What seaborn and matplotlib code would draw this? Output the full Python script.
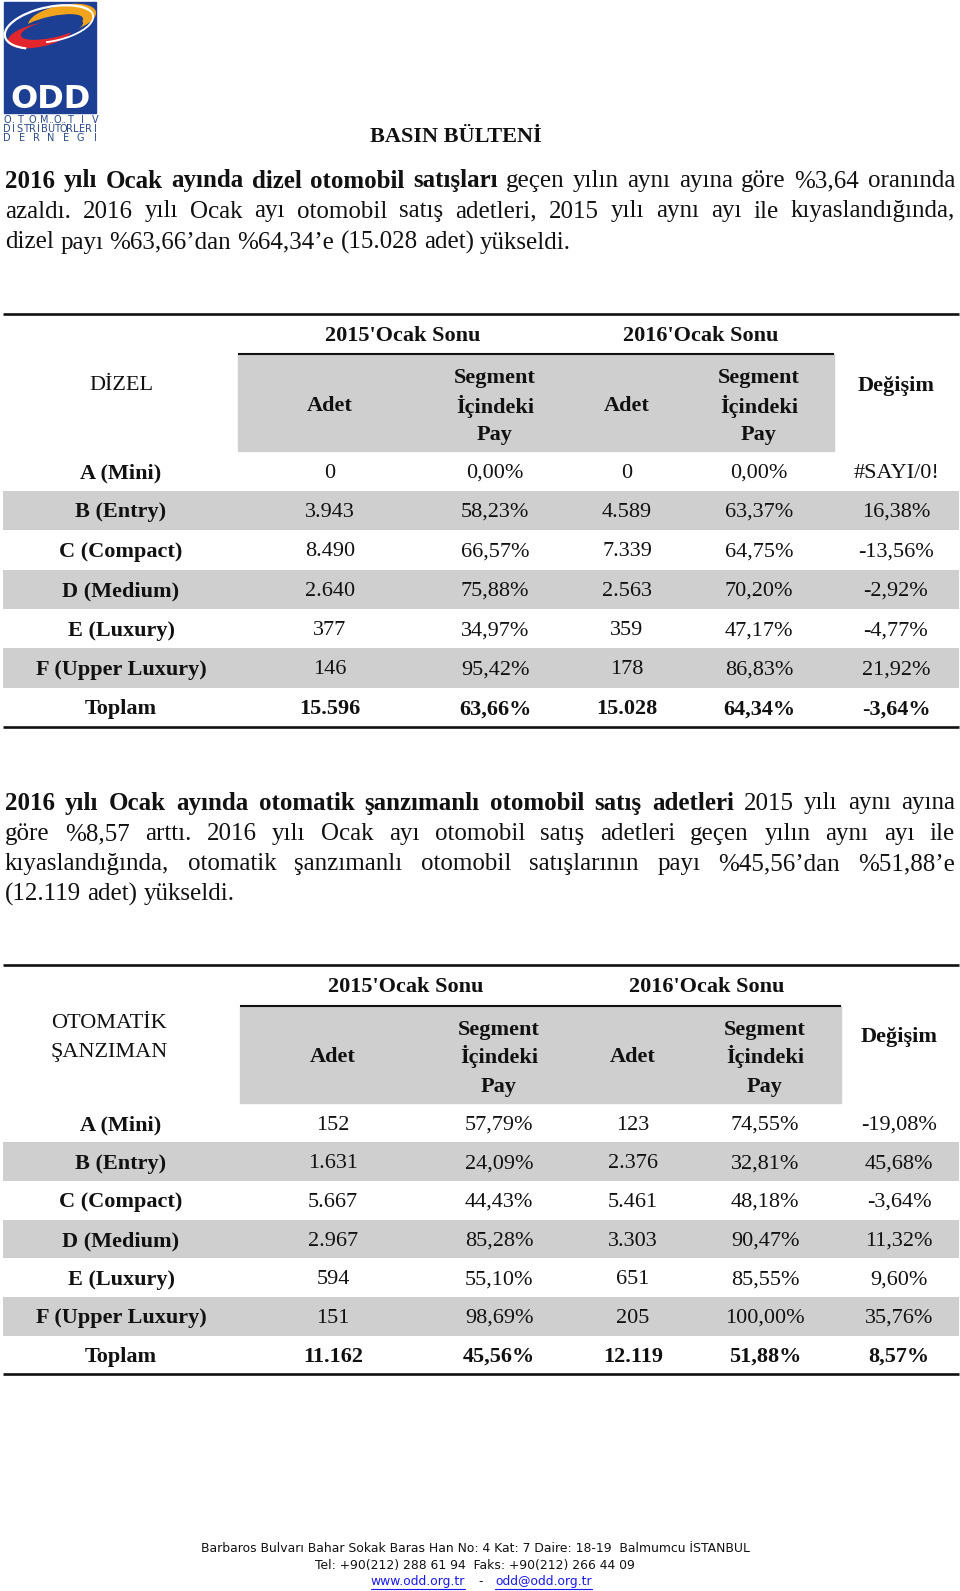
import numpy as np
import matplotlib
matplotlib.use("Agg")
import matplotlib.pyplot as plt
from matplotlib.colors import ListedColormap
from matplotlib.patches import Rectangle, Ellipse, Arc
import seaborn as sns

# ---- data -------------------------------------------------------------
segments = ["A (Mini)", "B (Entry)", "C (Compact)", "D (Medium)",
            "E (Luxury)", "F (Upper Luxury)", "Toplam"]

dizel_adet_2015 = [0, 3943, 8490, 2640, 377, 146, 15596]
dizel_pay_2015 = [0.00, 58.23, 66.57, 75.88, 34.97, 95.42, 63.66]
dizel_adet_2016 = [0, 4589, 7339, 2563, 359, 178, 15028]
dizel_pay_2016 = [0.00, 63.37, 64.75, 70.20, 47.17, 86.83, 64.34]
dizel_degisim = [None, 16.38, -13.56, -2.92, -4.77, 21.92, -3.64]

otomatik_adet_2015 = [152, 1631, 5667, 2967, 594, 151, 11162]
otomatik_pay_2015 = [57.79, 24.09, 44.43, 85.28, 55.10, 98.69, 45.56]
otomatik_adet_2016 = [123, 2376, 5461, 3303, 651, 205, 12119]
otomatik_pay_2016 = [74.55, 32.81, 48.18, 90.47, 85.55, 100.00, 51.88]
otomatik_degisim = [-19.08, 45.68, -3.64, 11.32, 9.60, 35.76, 8.57]

zebra = [0, 1, 0, 1, 0, 1, 0]

paragraph1 = [
    [("2016 yılı Ocak ayında dizel otomobil satışları", True),
     ("geçen yılın aynı ayına göre %3,64 oranında", False)],
    [("azaldı. 2016 yılı Ocak ayı otomobil satış adetleri, 2015 yılı aynı ayı ile kıyaslandığında,", False)],
    [("dizel payı %63,66’dan %64,34’e  (15.028 adet) yükseldi.", False)],
]
paragraph2 = [
    [("2016 yılı Ocak ayında otomatik şanzımanlı otomobil satış adetleri", True),
     ("2015 yılı aynı ayına", False)],
    [("göre %8,57 arttı. 2016 yılı Ocak ayı otomobil satış adetleri geçen yılın aynı ayı ile", False)],
    [("kıyaslandığında, otomatik şanzımanlı otomobil satışlarının payı %45,56’dan %51,88’e", False)],
    [("(12.119 adet) yükseldi.", False)],
]

footer_lines = ["Barbaros Bulvarı Bahar Sokak Baras Han No: 4 Kat: 7 Daire: 18-19  Balmumcu İSTANBUL",
                "Tel: +90(212) 288 61 94  Faks: +90(212) 266 44 09"]
footer_links = ["www.odd.org.tr", "odd@odd.org.tr"]

# ---- setup ------------------------------------------------------------
W, H = 960, 1591
GRAY = "#cfcfcf"
INK = "#111111"
BLUE = "#1c3f94"
DY = 2  # optical offset for centred text

sns.set_theme(style="white")
plt.rcParams["font.family"] = ["Liberation Serif", "DejaVu Serif"]

fig = plt.figure(figsize=(W / 100, H / 100), dpi=100)
ax = fig.add_axes([0, 0, 1, 1])
ax.set_xlim(0, W)
ax.set_ylim(H, 0)
ax.axis("off")
ax.set_zorder(2)
renderer = fig.canvas.get_renderer()


def fmt_count(v):
    return f"{v:,}".replace(",", ".")


def fmt_pct(v):
    if v is None:
        return "#SAYI/0!"
    return f"{v:.2f}".replace(".", ",") + "%"


def put_line(y, segs, x0, x1, justify=True, size=18):
    items = []
    for text, bold in segs:
        for w in text.split():
            items.append(ax.text(x0, y + DY, w, fontsize=size, color=INK, va="center", ha="left",
                                 fontweight="bold" if bold else "normal"))
    widths = [t.get_window_extent(renderer).width for t in items]
    if justify and len(items) > 1:
        gap = (x1 - x0 - sum(widths)) / (len(items) - 1)
    else:
        gap = 0.25 * size * 100 / 72
    x = x0
    for t, w in zip(items, widths):
        t.set_x(x)
        x += w + gap


def ctext(x, y, s, bold=False, **kw):
    ax.text(x, y + DY, s, fontsize=16, color=INK, ha=kw.pop("ha", "center"), va="center",
            fontweight="bold" if bold else "normal", **kw)


# ---- logo -------------------------------------------------------------
ax.add_patch(Rectangle((4, 2), 92, 111, color=BLUE, zorder=1))
ax.add_patch(Ellipse((62, 19), 68, 26, angle=-12, color="#f2a51c", zorder=2))
ax.add_patch(Ellipse((52, 25), 62, 16, angle=-12, color=BLUE, zorder=3))
ax.add_patch(Ellipse((40, 35), 64, 22, angle=-12, color="#e3262d", zorder=4))
ax.add_patch(Ellipse((52, 29), 62, 16, angle=-12, color=BLUE, zorder=5))
ax.add_patch(Arc((50, 27), 92, 40, angle=-12, theta1=150, theta2=350, color="white", lw=1.6, zorder=6))
ax.add_patch(Arc((52, 24), 84, 34, angle=-12, theta1=-20, theta2=120, color="white", lw=1.3, zorder=6))
ax.text(50, 99, "ODD", color="white", fontsize=23, fontweight="bold", family="DejaVu Sans",
        ha="center", va="center", zorder=7)
for word, y in [("OTOMOTİV", 120), ("DİSTRİBÜTÖRLERİ", 129), ("DERNEĞİ", 138)]:
    for ch, x in zip(word, np.linspace(7, 95, len(word))):
        ax.text(x, y, ch, color="#2b4a8a", fontsize=7, family="DejaVu Sans",
                ha="center", va="center")

# ---- title and paragraphs ---------------------------------------------
ctext(456, 135, "BASIN BÜLTENİ", bold=True)

for i, (segs, y) in enumerate(zip(paragraph1, [179, 209.5, 240.5])):
    put_line(y, segs, 5, 955, justify=i < len(paragraph1) - 1)
for i, (segs, y) in enumerate(zip(paragraph2, [801.5, 832, 862, 892])):
    put_line(y, segs, 5, 955, justify=i < len(paragraph2) - 1)


# ---- tables -----------------------------------------------------------
def draw_table(lay, title_lines, columns):
    # thick rules
    ax.plot([3, 959], [lay["top"], lay["top"]], color=INK, lw=1.9, solid_capstyle="butt")
    ax.plot([3, 959], [lay["bottom"], lay["bottom"]], color=INK, lw=1.9, solid_capstyle="butt")
    # gray header block
    bx0, bx1, by0, by1 = lay["block"]
    ax.add_patch(Rectangle((bx0, by0), bx1 - bx0, by1 - by0, color=GRAY, zorder=0))
    ax.plot([bx0, bx1], [by0, by0], color=INK, lw=1.5, solid_capstyle="butt")

    for label, gx in zip(["2015'Ocak Sonu", "2016'Ocak Sonu"], lay["groups"]):
        ctext(gx, lay["group_y"], label, bold=True)
    cols = lay["cols"]
    for j, cx in enumerate(cols[:4]):
        if j % 2 == 0:
            ctext(cx, lay["adet_y"], "Adet", bold=True)
        else:
            for word, sy in zip(["Segment", "İçindeki", "Pay"], lay["seg_y"]):
                ctext(cx, sy, word, bold=True)
    ctext(cols[4], lay["degisim_y"], "Değişim", bold=True)
    for text, x, y, ha in title_lines:
        ctext(x, y, text, ha=ha)

    # zebra body through seaborn heatmap
    n = len(segments)
    y0 = lay["row0"] - lay["step"] / 2
    y1 = y0 + n * lay["step"]
    hax = fig.add_axes([3 / W, 1 - y1 / H, (959 - 3) / W, (y1 - y0) / H])
    hax.set_zorder(0)
    sns.heatmap(np.array(zebra).reshape(-1, 1), ax=hax, cmap=ListedColormap(["white", GRAY]),
                vmin=0, vmax=1, cbar=False, xticklabels=False, yticklabels=False)
    hax.axis("off")

    for i, seg in enumerate(segments):
        y = lay["row0"] + i * lay["step"]
        bold = seg == "Toplam"
        ctext(lay["label_x"], y, seg, bold=True)
        vals = [fmt_count(columns[0][i]), fmt_pct(columns[1][i]), fmt_count(columns[2][i]),
                fmt_pct(columns[3][i]), fmt_pct(columns[4][i])]
        for cx, v in zip(cols, vals):
            ctext(cx, y, v, bold=bold)


layout1 = dict(top=313.5, bottom=726.5, block=(237.5, 834, 354, 450.5), groups=(403, 701),
               group_y=334, cols=[330, 495, 627, 759, 896], seg_y=(375.5, 404, 433),
               adet_y=404, degisim_y=383.5, label_x=121, row0=471, step=39.4)
layout2 = dict(top=965, bottom=1374, block=(239.5, 841, 1005.5, 1103), groups=(406, 707),
               group_y=985.5, cols=[333, 499, 633, 765, 899], seg_y=(1028, 1055, 1085),
               adet_y=1055, degisim_y=1035, label_x=121, row0=1123, step=38.67)

draw_table(layout1, [("DİZEL", 121, 384, "center")],
           [dizel_adet_2015, dizel_pay_2015, dizel_adet_2016, dizel_pay_2016, dizel_degisim])
draw_table(layout2, [("OTOMATİK", 51, 1022, "left"), ("ŞANZIMAN", 51, 1050, "left")],
           [otomatik_adet_2015, otomatik_pay_2015, otomatik_adet_2016, otomatik_pay_2016,
            otomatik_degisim])

# ---- footer -----------------------------------------------------------
FS = 8.9
for text, y in zip(footer_lines, [1549, 1566]):
    ax.text(475, y, text, fontsize=FS, family="DejaVu Sans", color=INK, ha="center", va="center")
link_y = 1582
t1 = ax.text(465, link_y, footer_links[0], fontsize=FS, family="DejaVu Sans", color="#1a1aee",
             ha="right", va="center")
ax.text(481, link_y, "-", fontsize=FS, family="DejaVu Sans", color=INK, ha="center", va="center")
t2 = ax.text(495, link_y, footer_links[1], fontsize=FS, family="DejaVu Sans", color="#1a1aee",
             ha="left", va="center")
for t in (t1, t2):
    bb = t.get_window_extent(renderer)
    ax.plot([bb.x0, bb.x1], [link_y + 7, link_y + 7], color="#1a1aee", lw=0.8)

fig.savefig("out.png", dpi=100)
